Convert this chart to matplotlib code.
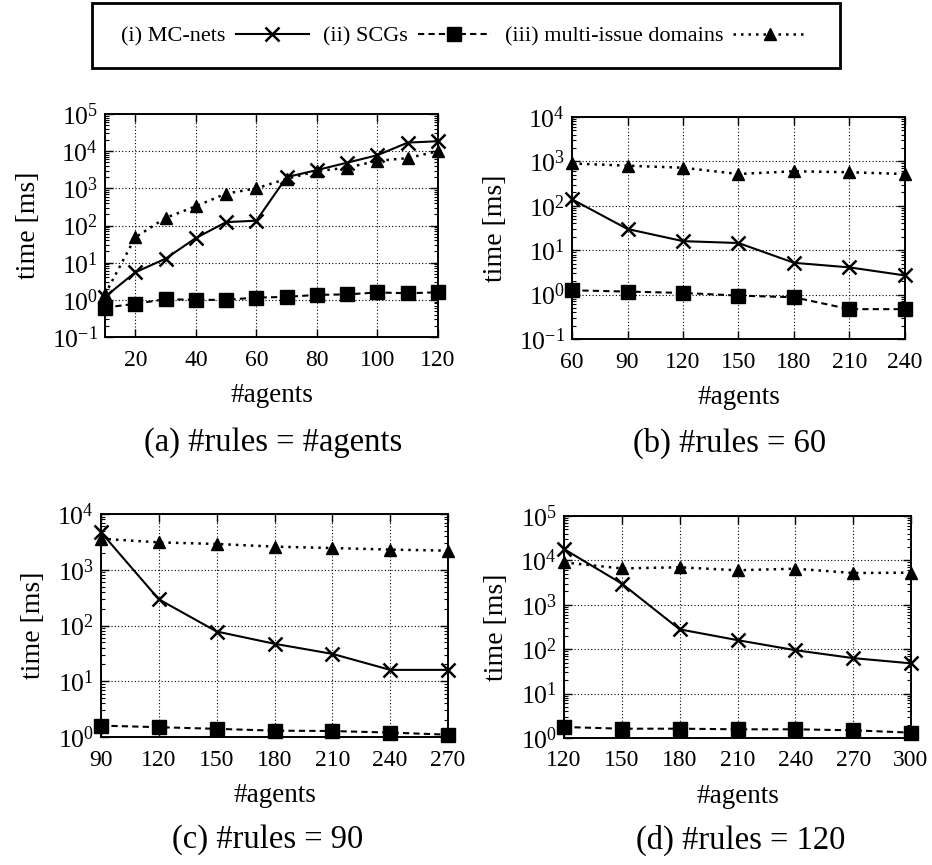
import matplotlib
matplotlib.use("Agg")
import matplotlib.pyplot as plt
import numpy as np
from matplotlib.ticker import LogLocator, FixedLocator, NullFormatter
from matplotlib.patches import Rectangle

plt.rcParams['font.family'] = ['Liberation Serif', 'DejaVu Serif']
plt.rcParams['mathtext.fontset'] = 'custom'
plt.rcParams['mathtext.rm'] = 'Liberation Serif'
plt.rcParams['mathtext.it'] = 'Liberation Serif:italic'

# ---- data ----
agents_a = [10, 20, 30, 40, 50, 60, 70, 80, 90, 100, 110, 120]
mc_a = [1.2, 5.5, 12.8, 46, 123, 135, 2000, 3100, 4900, 7800, 17000, 18500]
scg_a = [0.62, 0.78, 1.04, 1.0, 1.0, 1.15, 1.2, 1.36, 1.4, 1.58, 1.5, 1.6]
mi_a = [1.4, 48, 160, 330, 720, 1000, 1800, 2900, 3600, 5500, 6500, 10000]

agents_b = [60, 90, 120, 150, 180, 210, 240]
mc_b = [140, 30, 16, 14.5, 5.2, 4.1, 2.7]
scg_b = [1.25, 1.17, 1.09, 0.95, 0.87, 0.47, 0.47]
mi_b = [900, 800, 720, 520, 600, 570, 520]

agents_c = [90, 120, 150, 180, 210, 240, 270]
mc_c = [4700, 295, 78, 47, 31, 16, 16]
scg_c = [1.6, 1.5, 1.4, 1.3, 1.28, 1.2, 1.1]
mi_c = [3600, 3100, 2900, 2600, 2450, 2300, 2200]

agents_d = [120, 150, 180, 210, 240, 270, 300]
mc_d = [18000, 3000, 280, 160, 95, 63, 48]
scg_d = [1.77, 1.62, 1.62, 1.57, 1.57, 1.49, 1.32]
mi_d = [9000, 6600, 7000, 6000, 6500, 5200, 5300]

captions = ["(a) #rules = #agents", "(b) #rules = 60", "(c) #rules = 90", "(d) #rules = 120"]
series_labels = ["(i) MC-nets", "(ii) SCGs", "(iii) multi-issue domains"]

W, H = 932, 865
fig = plt.figure(figsize=(W / 100, H / 100), dpi=100)

def ax_at(l, t, r, b):
    return fig.add_axes([l / W, 1 - b / H, (r - l) / W, (b - t) / H])

panels = [
    (ax_at(105, 114, 438, 337), agents_a, mc_a, scg_a, mi_a, (10, 120), [20, 40, 60, 80, 100, 120], (1e-1, 1e5)),
    (ax_at(572, 117, 905, 339), agents_b, mc_b, scg_b, mi_b, (60, 240), agents_b, (1e-1, 1e4)),
    (ax_at(101, 514, 448, 737), agents_c, mc_c, scg_c, mi_c, (90, 270), agents_c, (1e0, 1e4)),
    (ax_at(564, 516, 911, 738), agents_d, mc_d, scg_d, mi_d, (120, 300), agents_d, (1e0, 1e5)),
]

handles = None
for i, (ax, x, mc, scg, mi, xl, xt, yl) in enumerate(panels):
    h1, = ax.plot(x, mc, color='black', lw=1.5, ls='-', marker='x', ms=10.5, mew=1.8, clip_on=False, zorder=5)
    h2, = ax.plot(x, scg, color='black', lw=1.5, ls=(0, (3, 2)), marker='s', ms=10.5, clip_on=False, zorder=5)
    h3, = ax.plot(x, mi, color='black', lw=1.8, ls=(0, (1, 2)), marker='^', ms=8.5, clip_on=False, zorder=5)
    if handles is None:
        handles = [h1, h2, h3]
    ax.set_yscale('log')
    ax.set_xlim(*xl)
    ax.set_ylim(*yl)
    ax.xaxis.set_major_locator(FixedLocator(xt))
    ax.yaxis.set_major_locator(LogLocator(base=10, numticks=20))
    ax.yaxis.set_minor_locator(LogLocator(base=10, subs=np.arange(2, 10), numticks=20))
    ax.yaxis.set_minor_formatter(NullFormatter())
    ax.grid(True, which='major', color='black', ls=(0, (1, 2)), lw=0.8)
    ax.tick_params(which='both', direction='in', top=True, right=True, colors='black')
    ax.tick_params(axis='x', labelsize=17, pad=9)
    ax.tick_params(axis='y', labelsize=18.5, pad=5)
    ax.tick_params(which='major', length=6, width=1.0)
    ax.tick_params(which='minor', length=3, width=0.8)
    for s in ax.spines.values():
        s.set_linewidth(1.4)
    ax.set_ylabel("time [ms]", fontsize=20, labelpad=8)
    ax.set_xlabel("#agents", fontsize=19.5, labelpad=9)

# captions
fig.text(273 / W, 1 - 443 / H, captions[0], ha='center', va='center', fontsize=23.5)
fig.text(730 / W, 1 - 443 / H, captions[1], ha='center', va='center', fontsize=23.5)
fig.text(268 / W, 1 - 840 / H, captions[2], ha='center', va='center', fontsize=23.5)
fig.text(741 / W, 1 - 840 / H, captions[3], ha='center', va='center', fontsize=23.5)

# legend (frame drawn separately)
leg = fig.legend(handles, series_labels, loc='center', bbox_to_anchor=(464 / W, 1 - 36 / H),
                 ncol=3, markerfirst=False, frameon=False,
                 fontsize=16, borderpad=0.0, handlelength=3.3, columnspacing=0.63, handletextpad=0.45)
fig.patches.append(Rectangle((92 / W, 1 - 68 / H), (840 - 92) / W, (68 - 3) / H,
                             transform=fig.transFigure, fill=False, edgecolor='black', lw=2.0))

fig.savefig("out.png", dpi=100)
